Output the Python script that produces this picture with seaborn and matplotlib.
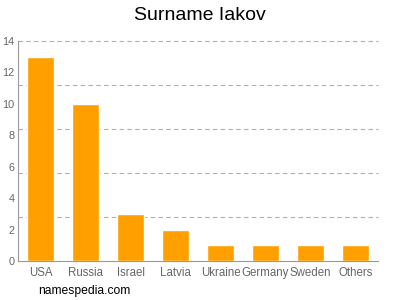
import matplotlib
matplotlib.use("Agg")
import matplotlib.pyplot as plt
import seaborn as sns
import pandas as pd
import numpy as np

countries = ["USA", "Russia", "Israel", "Latvia", "Ukraine", "Germany", "Sweden", "Others"]
counts = [13, 10, 3, 2, 1, 1, 1, 1]
y_ticks = [0, 2, 4, 6, 8, 10, 12, 14]
grid_levels = [2.8, 5.6, 8.4, 11.2, 14]

sns.set_style("white")
plt.rcParams['font.family'] = ['Liberation Sans', 'DejaVu Sans']

df = pd.DataFrame({"country": countries, "count": counts})
fig = plt.figure(figsize=(4, 3), dpi=100)
ax = fig.add_axes([18/400, 1 - 261/300, 360/400, 220/300])

for g in grid_levels:
    ax.axhline(g, linestyle=(0, (4, 3)), color="#b0b0b0", linewidth=0.8, zorder=0, clip_on=False)

sns.barplot(data=df, x="country", y="count", color="#FFA000", saturation=1,
            width=0.62, ax=ax, zorder=3)

ax.set_xlim(-0.5, 7.5)
ax.set_ylim(0, 14)
ax.set_yticks(y_ticks)
ax.grid(False)
ax.tick_params(axis="y", which="major", length=2, color="#888888", labelsize=7.8, labelcolor="#666666", pad=0.5)
ax.tick_params(axis="x", length=0, labelsize=8.3, labelcolor="#666666", pad=4)
ax.set_xlabel("")
ax.set_ylabel("")
for s in ["top", "right"]:
    ax.spines[s].set_visible(False)
for s in ["left", "bottom"]:
    ax.spines[s].set_color("#999999")
    ax.spines[s].set_linewidth(0.8)

fig.text(0.5, 1 - 15/300, "Surname Iakov", ha="center", va="center", fontsize=14, color="#000000")
fig.text(38/400, 1 - 291/300, "namespedia.com", ha="left", va="center", fontsize=8.7, color="#000000")

fig.savefig("out.png", dpi=100)
